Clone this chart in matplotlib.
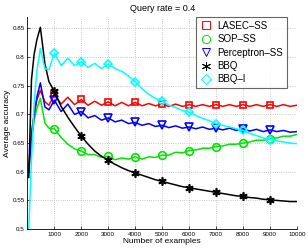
import matplotlib
matplotlib.use("Agg")
import matplotlib.pyplot as plt
from matplotlib.lines import Line2D

plt.rcParams['font.family'] = ['Liberation Sans', 'DejaVu Sans']

# x positions of the evaluation points
n_examples = [50, 150, 250, 350, 480, 650, 800,
              1000, 1250, 1500, 1750, 2000, 2250, 2500, 2750, 3000, 3250, 3500, 3750,
              4000, 4250, 4500, 4750, 5000, 5250, 5500, 5750, 6000, 6250, 6500, 6750,
              7000, 7250, 7500, 7750, 8000, 8250, 8500, 8750, 9000, 9250, 9500, 9750, 10000]

lasec_ss = [0.61, 0.67, 0.70, 0.725, 0.742, 0.722, 0.716,
            0.735, 0.718, 0.730, 0.717, 0.726, 0.716, 0.723, 0.716, 0.722, 0.715, 0.721, 0.715,
            0.721, 0.715, 0.719, 0.715, 0.718, 0.714, 0.718, 0.714, 0.717, 0.714, 0.717, 0.714,
            0.717, 0.714, 0.717, 0.714, 0.717, 0.714, 0.717, 0.714, 0.717, 0.714, 0.717, 0.714, 0.716]

sop_ss = [0.60, 0.65, 0.69, 0.71, 0.728, 0.685, 0.676,
          0.675, 0.660, 0.648, 0.640, 0.636, 0.630, 0.630, 0.625, 0.627, 0.621, 0.624, 0.622,
          0.626, 0.622, 0.626, 0.625, 0.629, 0.629, 0.634, 0.633, 0.637, 0.638, 0.641, 0.641,
          0.644, 0.645, 0.648, 0.648, 0.650, 0.652, 0.655, 0.655, 0.657, 0.659, 0.662, 0.662, 0.665]

perceptron_ss = [0.60, 0.66, 0.70, 0.73, 0.755, 0.713, 0.708,
                 0.725, 0.705, 0.718, 0.700, 0.705, 0.694, 0.698, 0.690, 0.694, 0.687, 0.690, 0.684,
                 0.686, 0.681, 0.684, 0.679, 0.681, 0.677, 0.680, 0.676, 0.678, 0.675, 0.678, 0.674,
                 0.676, 0.673, 0.676, 0.672, 0.675, 0.671, 0.674, 0.670, 0.673, 0.670, 0.672, 0.669, 0.670]

bbq = [0.59, 0.76, 0.805, 0.83, 0.852, 0.788, 0.757,
       0.740, 0.714, 0.695, 0.678, 0.662, 0.648, 0.636, 0.627, 0.620, 0.613, 0.607, 0.602,
       0.598, 0.594, 0.590, 0.586, 0.583, 0.580, 0.577, 0.574, 0.572, 0.570, 0.568, 0.566,
       0.564, 0.562, 0.560, 0.558, 0.557, 0.555, 0.554, 0.552, 0.551, 0.550, 0.549, 0.548, 0.548]

bbq_i = [0.50, 0.62, 0.72, 0.775, 0.815, 0.780, 0.778,
         0.807, 0.785, 0.798, 0.785, 0.792, 0.782, 0.789, 0.780, 0.788, 0.780, 0.775, 0.767,
         0.757, 0.745, 0.735, 0.728, 0.724, 0.716, 0.712, 0.707, 0.704, 0.698, 0.693, 0.689,
         0.684, 0.681, 0.678, 0.675, 0.672, 0.667, 0.663, 0.659, 0.656, 0.654, 0.652, 0.650, 0.649]

labels = ['LASEC\u2013SS', 'SOP\u2013SS', 'Perceptron\u2013SS', 'BBQ', 'BBQ\u2013I']
colors = ['#ff0000', '#00e600', '#0000ff', '#000000', '#00ffff']
markers = ['s', 'o', 'v', (6, 2, 0), 'D']
sizes = [4.8, 5.5, 5.5, 6, 4.5]

x_ticks = [1000, 2000, 3000, 4000, 5000, 6000, 7000, 8000, 9000, 10000]
y_ticks = [0.5, 0.55, 0.6, 0.65, 0.7, 0.75, 0.8, 0.85]
y_tick_labels = ['0.5', '0.55', '0.6', '0.65', '0.7', '0.75', '0.8', '0.85']

fig = plt.figure(figsize=(3.08, 2.49), dpi=100)
ax = fig.add_axes([0.089, 0.080, 0.875, 0.852])

mark_idx = [i for i, v in enumerate(n_examples) if v % 1000 == 0 and v < 10000]
series = [lasec_ss, sop_ss, perceptron_ss, bbq, bbq_i]
for ys, c, m, s in zip(series, colors, markers, sizes):
    ax.plot(n_examples, ys, color=c, lw=1.1, marker=m, markersize=s,
            markevery=mark_idx, markerfacecolor='none', markeredgecolor=c, markeredgewidth=1.2)

ax.set_xlim(0, 10000)
ax.set_ylim(0.5, 0.87)
ax.set_xticks(x_ticks)
ax.set_xticklabels([str(t) for t in x_ticks])
ax.set_yticks(y_ticks)
ax.set_yticklabels(y_tick_labels)
ax.tick_params(labelsize=4.5, direction='in', length=2, width=0.5, pad=2)
ax.grid(True, linestyle=':', color='#b8b8b8', linewidth=0.6)
ax.spines['top'].set_visible(False)
ax.spines['right'].set_visible(False)
ax.spines['left'].set_linewidth(0.6)
ax.spines['bottom'].set_linewidth(0.6)

ax.set_xlabel('Number of examples', fontsize=6, labelpad=1)
ax.set_ylabel('Average accuracy', fontsize=6, labelpad=1)
ax.set_title('Query rate = 0.4', fontsize=6.5, pad=4)

handles = [Line2D([], [], ls='none', marker=m, markersize=s + 0.5, markerfacecolor='none',
                  markeredgecolor=c, markeredgewidth=0.7)
           for c, m, s in zip(colors, markers, sizes)]
leg = ax.legend(handles, labels, loc='upper right', bbox_to_anchor=(0.964, 1.0),
                fontsize=7, frameon=True, fancybox=False, borderaxespad=0,
                labelspacing=0.35, handletextpad=0.6, handlelength=1.2, borderpad=0.4)
leg.get_frame().set_edgecolor('#404040')
leg.get_frame().set_linewidth(0.8)

fig.savefig('out.png', dpi=100)
